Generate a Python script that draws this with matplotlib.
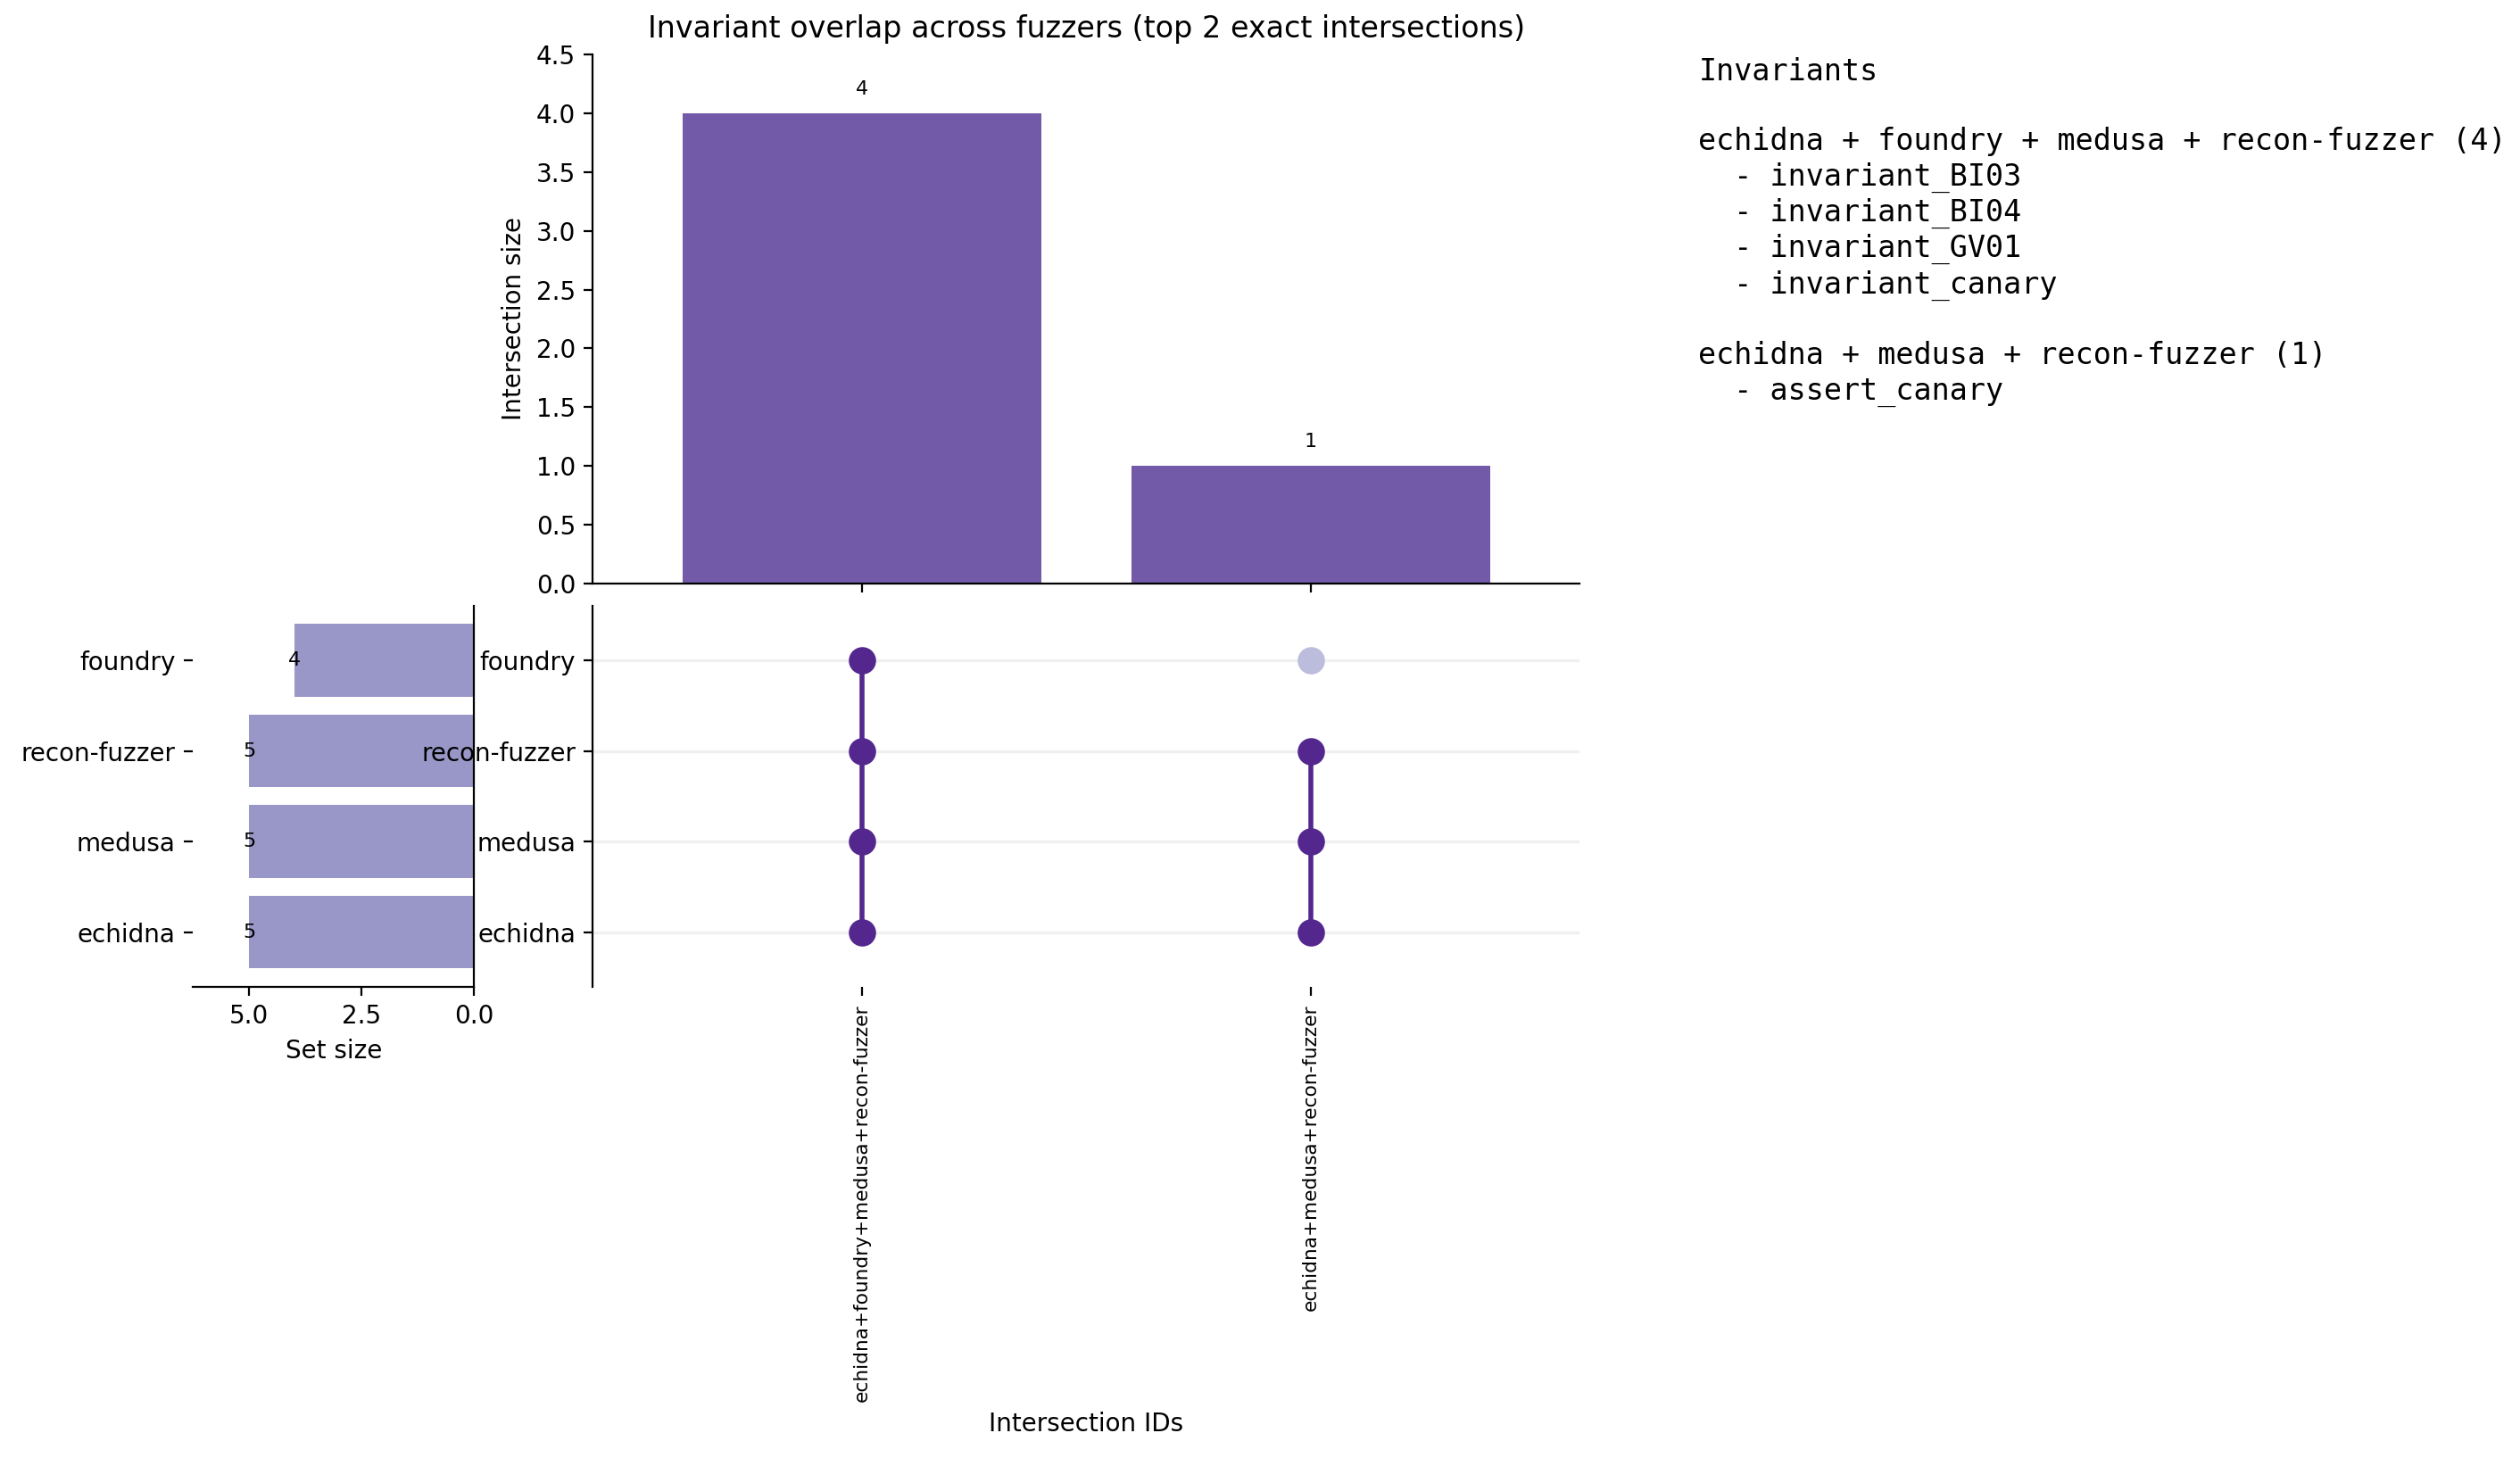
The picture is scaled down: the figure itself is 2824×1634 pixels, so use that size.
import numpy as np
import matplotlib
matplotlib.use("Agg")
import matplotlib.pyplot as plt

# sets, bottom row first
fuzzers = ["echidna", "medusa", "recon-fuzzer", "foundry"]
set_sizes = [5, 5, 5, 4]

intersection_ids = ["echidna+foundry+medusa+recon-fuzzer", "echidna+medusa+recon-fuzzer"]
intersection_sizes = [4, 1]
members = [
    ["echidna", "foundry", "medusa", "recon-fuzzer"],
    ["echidna", "medusa", "recon-fuzzer"],
]
invariants = [
    ["invariant_BI03", "invariant_BI04", "invariant_GV01", "invariant_canary"],
    ["assert_canary"],
]

bar_color = "#6a51a3"
set_color = "#807dba"
dot_on = "#54278f"
dot_off = "#bcbddc"

fig = plt.figure(figsize=(14.12, 8.17), dpi=200)

ax_top = fig.add_axes([0.2353, 0.5999, 0.3916, 0.3627])
ax_set = fig.add_axes([0.0765, 0.3233, 0.1117, 0.2612])
ax_mat = fig.add_axes([0.2353, 0.3233, 0.3916, 0.2612])
ax_mat.set_zorder(3)
ax_mat.patch.set_alpha(0)

x = np.arange(len(intersection_ids))
y = np.arange(len(fuzzers))

# intersection bars
ax_top.bar(x, intersection_sizes, width=0.8, color=bar_color, alpha=0.95)
for xi, v in zip(x, intersection_sizes):
    ax_top.annotate(str(v), (xi, v), xytext=(0, 6), textcoords="offset points",
                    ha="center", va="bottom", fontsize=8)
ax_top.set_xlim(-0.6, 1.6)
ax_top.set_ylim(0, 4.5)
ax_top.set_yticks(np.arange(0, 4.51, 0.5))
ax_top.set_xticks(x)
ax_top.set_xticklabels([])
ax_top.set_ylabel("Intersection size")
ax_top.set_title("Invariant overlap across fuzzers (top 2 exact intersections)", fontsize=12, pad=7)
ax_top.spines["top"].set_visible(False)
ax_top.spines["right"].set_visible(False)

# matrix
for yi in y:
    ax_mat.axhline(yi, color="#f0f0f0", lw=1.2, zorder=0)
for xi, mem in zip(x, members):
    on = [i for i, f in enumerate(fuzzers) if f in mem]
    off = [i for i, f in enumerate(fuzzers) if f not in mem]
    ax_mat.plot([xi, xi], [min(on), max(on)], color=dot_on, lw=2, zorder=2)
    ax_mat.scatter([xi] * len(on), on, s=100, color=dot_on, zorder=3)
    ax_mat.scatter([xi] * len(off), off, s=100, color=dot_off, zorder=3)
ax_mat.set_xlim(-0.6, 1.6)
ax_mat.set_ylim(-0.6, 3.6)
ax_mat.set_yticks(y)
ax_mat.set_yticklabels(fuzzers)
ax_mat.set_xticks(x)
ax_mat.set_xticklabels(intersection_ids, rotation=90, fontsize=7.8)
ax_mat.set_xlabel("Intersection IDs")
for s in ["top", "right", "bottom"]:
    ax_mat.spines[s].set_visible(False)

# set sizes
ax_set.barh(y, set_sizes, height=0.8, color=set_color, alpha=0.8)
for yi, v in zip(y, set_sizes):
    ax_set.text(v, yi, str(v), ha="center", va="center", fontsize=8)
ax_set.set_xlim(6.25, 0)
ax_set.set_ylim(-0.6, 3.6)
ax_set.set_xticks([5.0, 2.5, 0.0])
ax_set.set_yticks(y)
ax_set.set_yticklabels(fuzzers)
ax_set.set_xlabel("Set size")
ax_set.spines["top"].set_visible(False)
ax_set.spines["left"].set_visible(False)

# invariant listing
lines = ["Invariants", ""]
for mem, size, inv in zip(members, intersection_sizes, invariants):
    lines.append(" + ".join(mem) + f" ({size})")
    lines += ["  - " + name for name in inv]
    lines.append("")
fig.text(0.674, 0.961, "\n".join(lines).rstrip(), family="DejaVu Sans Mono",
         fontsize=12, ha="left", va="top", linespacing=1.24)

fig.savefig("out.png", dpi=200)
